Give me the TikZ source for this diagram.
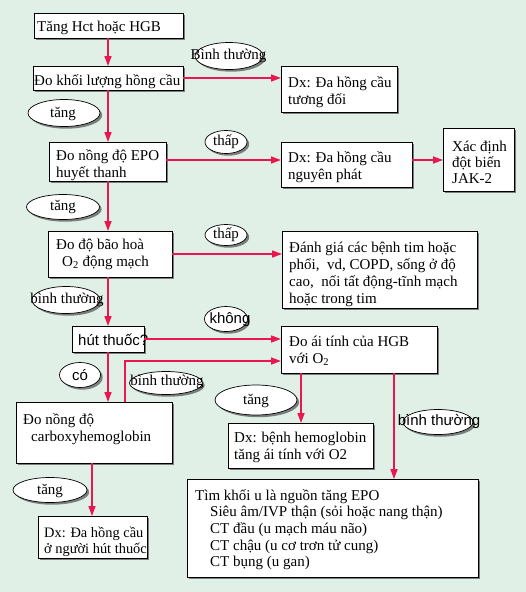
\documentclass[tikz,border=0pt]{standalone}
\usepackage{fontspec}
\setmainfont{Liberation Serif}
\setsansfont{Liberation Sans}
\usetikzlibrary{arrows.meta,shadows,shapes.geometric}
\definecolor{bgmint}{RGB}{224,240,230}
\definecolor{arrowred}{RGB}{233,22,80}
\newcommand\mlines[2][17pt]{\vtop{\baselineskip=#1\lineskiplimit=-30pt\lineskip=0pt\halign{##\hfil\cr#2\crcr}}}
\tikzset{
  shd/.style={drop shadow={shadow xshift=2.2pt,shadow yshift=-2.2pt,fill=black!65,opacity=0.75}},
  box/.style={draw=black,line width=0.7pt,fill=white,inner sep=0pt,outer sep=0pt,anchor=north west,shd},
  lbl/.style={ellipse,draw=black,line width=0.7pt,fill=white,inner sep=0pt,outer sep=0pt,shd},
  txt/.style={anchor=base west,inner sep=0pt},
  ltxt/.style={inner sep=0pt},
  arr/.style={draw=arrowred,line width=1.5pt,-{Triangle[length=10pt,width=7pt]}}
}
\begin{document}
\begin{tikzpicture}[x=1pt,y=-1pt,font={\fontsize{15}{17}\selectfont}]
\fill[bgmint] (0,0) rectangle (526,592);
\useasboundingbox (0,0) rectangle (526,592);
% boxes
\node[box,minimum width=149pt,minimum height=25pt] (b1) at (34,13) {};
\node[box,minimum width=150pt,minimum height=24pt] (b2) at (33,66) {};
\node[box,minimum width=117pt,minimum height=39pt] (b3) at (49,142) {};
\node[box,minimum width=124pt,minimum height=46pt] (b4) at (48,231) {};
\node[box,minimum width=72pt,minimum height=26pt] (b5) at (72,326) {};
\node[box,minimum width=156pt,minimum height=61pt] (b6) at (16,402) {};
\node[box,minimum width=109pt,minimum height=42pt] (b7) at (38,516) {};
\node[box,minimum width=116pt,minimum height=46pt] (r1) at (281,66) {};
\node[box,minimum width=131pt,minimum height=45pt] (r2) at (281,142) {};
\node[box,minimum width=71pt,minimum height=63pt] (r3) at (443,128) {};
\node[box,minimum width=195pt,minimum height=77pt] (r4) at (282,231) {};
\node[box,minimum width=156pt,minimum height=47pt] (r5) at (281,326) {};
\node[box,minimum width=145pt,minimum height=45pt] (r6) at (228,423) {};
\node[box,minimum width=291pt,minimum height=98pt] (r7) at (187,479) {};
% box texts
\node[txt] (tb1) at (37,31) {Tăng Hct hoặc HGB};
\node[txt] (tb2) at (34,85) {Đo khối lượng hồng cầu};
\node[txt] (tb3) at (56,160) {\mlines{Đo nồng độ EPO\cr huyết thanh}};
\node[txt] (tb4) at (56,249) {\mlines{Đo độ bão hoà\cr\hspace{6pt}O\textsubscript{2} động mạch}};
\node[txt,font={\sffamily\fontsize{15}{17}\selectfont}] (tb5) at (78,345) {hút thuốc?};
\node[txt] (tb6) at (23,424) {\mlines{Đo nồng độ\cr\hspace{8pt}carboxyhemoglobin}};
\node[txt,font={\fontsize{14.4}{16}\selectfont}] (tb7) at (44,537) {\mlines[16pt]{Dx: Đa hồng cầu\cr ở người hút thuốc}};
\node[txt] (tr1) at (288,87) {\mlines{Dx: Đa hồng cầu\cr tương đối}};
\node[txt] (tr2) at (288,162) {\mlines{Dx: Đa hồng cầu\cr nguyên phát}};
\node[txt] (tr3) at (452,151) {\mlines[16pt]{Xác định\cr đột biến\cr JAK-2}};
\node[txt] (tr4) at (289,252) {\mlines{Đánh giá các bệnh tim hoặc\cr phổi,\ \ vd, COPD, sống ở độ\cr cao,\ \ nối tất động-tĩnh mạch\cr hoặc trong tim}};
\node[txt] (tr5) at (289,346) {\mlines{Đo ái tính của HGB\cr với O\textsubscript{2}}};
\node[txt] (tr6) at (234,442) {\mlines{Dx: bệnh hemoglobin\cr tăng ái tính với O2}};
\node[txt] (tr7) at (195,500) {\mlines[16.7pt]{Tìm khối u là nguồn tăng EPO\cr
  \hspace{15pt}Siêu âm/IVP thận (sỏi hoặc nang thận)\cr
  \hspace{15pt}CT đầu (u mạch máu não)\cr
  \hspace{15pt}CT chậu (u cơ trơn tử cung)\cr
  \hspace{15pt}CT bụng (u gan)}};
% helper coordinates
\coordinate (spine) at (108,0);
\coordinate (x92) at (92,0);
\coordinate (y160) at (0,160);
\coordinate (k) at (125,361);
\coordinate (x301) at (301,0);
\coordinate (x394) at (394,0);
% connectors
\draw[arr] (b1.south -| spine) -- (b2.north -| spine);
\draw[arr] (b2.south -| spine) -- (b3.north -| spine);
\draw[arr] (b3.south -| spine) -- (b4.north -| spine);
\draw[arr] (b4.south -| spine) -- (b5.north -| spine);
\draw[arr] (b5.south -| spine) -- (b6.north -| spine);
\draw[arr] (b6.south -| x92) -- (b7.north -| x92);
\draw[arr] (b2.east) -- (b2.east -| r1.west);
\draw[arr] (b3.east |- y160) -- (r2.west |- y160);
\draw[arr] (r2.east |- y160) -- (r3.west |- y160);
\draw[arr] (b4.east) -- (b4.east -| r4.west);
\draw[arr] (b5.east) -- (b5.east -| r5.west);
\draw[arr] (b6.north -| k) -- (k) -- (k -| r5.west);
\draw[arr] (r5.south -| x301) -- (r6.north -| x301);
\draw[arr] (r5.south -| x394) -- (r7.north -| x394);
% label ellipses
\node[lbl,minimum width=68pt,minimum height=27pt] (e1) at (229,56) {};
\node[lbl,minimum width=72pt,minimum height=27pt] (e2) at (64,113) {};
\node[lbl,minimum width=42pt,minimum height=23pt] (e3) at (226,142) {};
\node[lbl,minimum width=73pt,minimum height=25pt] (e4) at (63,207) {};
\node[lbl,minimum width=42pt,minimum height=21pt] (e5) at (226,235) {};
\node[lbl,minimum width=68pt,minimum height=27pt] (e6) at (66,300) {};
\node[lbl,minimum width=43pt,minimum height=25pt] (e7) at (226,319) {};
\node[lbl,minimum width=41pt,minimum height=25pt] (e8) at (80,375) {};
\node[lbl,minimum width=73pt,minimum height=23pt] (e9) at (166,383) {};
\node[lbl,minimum width=82pt,minimum height=30pt] (e10) at (256,400) {};
\node[lbl,minimum width=74pt,minimum height=25pt] (e11) at (50,490) {};
\node[lbl,minimum width=70pt,minimum height=25pt] (e12) at (438,422) {};
% label texts
\node[ltxt] (le1) at (228.5,56) {Bình thường};
\node[ltxt] (le2) at (63,114) {tăng};
\node[ltxt] (le3) at (226,142) {thấp};
\node[ltxt] (le4) at (63,207) {tăng};
\node[ltxt] (le5) at (226,235) {thấp};
\node[ltxt] (le6) at (67,300) {bình thường};
\node[ltxt,font={\sffamily\fontsize{15}{17}\selectfont}] (le7) at (230,320) {không};
\node[ltxt,font={\sffamily\fontsize{15}{17}\selectfont}] (le8) at (80,375) {có};
\node[ltxt] (le9) at (167,382) {bình thường};
\node[ltxt] (le10) at (256,401) {tăng};
\node[ltxt] (le11) at (50,491) {tăng};
\node[ltxt,font={\sffamily\fontsize{15}{17}\selectfont}] (le12) at (439,422) {bình thường};
\end{tikzpicture}
\end{document}
